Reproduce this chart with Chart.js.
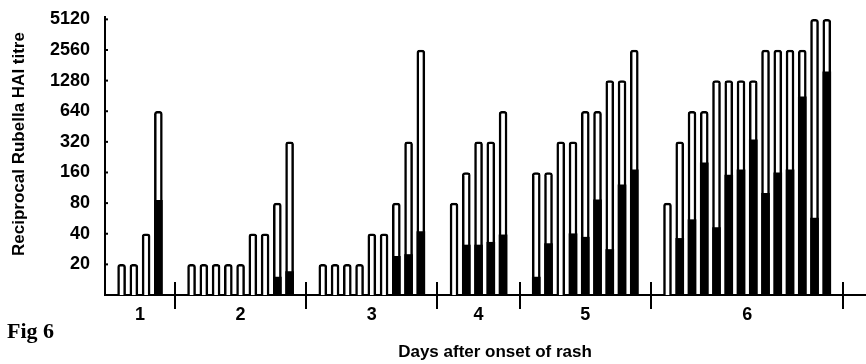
<!DOCTYPE html>
<html><head><meta charset="utf-8">
<script src="https://cdn.jsdelivr.net/npm/chart.js@4.4.0/dist/chart.umd.min.js"></script>
<style>html,body{margin:0;padding:0;background:#fff;} #wrap{width:866px;height:364px;}</style>
</head><body><div id="wrap"><canvas id="c" width="866" height="364"></canvas></div>
<script>
// ---- data ----
const dayLabels = ['1', '2', '3', '4', '5', '6'];
const yTickValues = [20, 40, 80, 160, 320, 640, 1280, 2560, 5120];

const day1Titres = [20, 20, 40, 640];
const day1Filled = [null, null, null, 85];
const day2Titres = [20, 20, 20, 20, 20, 40, 40, 80, 320];
const day2Filled = [null, null, null, null, null, null, null, 15, 17];
const day3Titres = [20, 20, 20, 20, 40, 40, 80, 320, 2560];
const day3Filled = [null, null, null, null, null, null, 24, 25, 42];
const day4Titres = [80, 160, 320, 320, 640];
const day4Filled = [null, 31, 31, 33, 39];
const day5Titres = [160, 160, 320, 320, 640, 640, 1280, 1280, 2560];
const day5Filled = [15, 32, null, 40, 37, 86, 28, 121, 170];
const day6Titres = [80, 320, 640, 640, 1280, 1280, 1280, 1280, 2560, 2560, 2560, 2560, 5120, 5120];
const day6Filled = [null, 36, 55, 199, 46, 151, 170, 335, 100, 159, 170, 887, 57, 1564];

const titreGroups = [day1Titres, day2Titres, day3Titres, day4Titres, day5Titres, day6Titres];
const filledGroups = [day1Filled, day2Filled, day3Filled, day4Filled, day5Filled, day6Filled];

// ---- layout of bar slots (in bar pitches) ----
const GAP = 2.71;
const TAIL = 3.2;

const totalPts = [], filledPts = [], centers = [], separators = [];
let pos = GAP / 2, lastEnd = 0;
titreGroups.forEach((g, gi) => {
  const start = pos;
  g.forEach((v, i) => {
    const x = start + i;
    totalPts.push({x: x, y: v});
    const f = filledGroups[gi][i];
    if (f != null) filledPts.push({x: x, y: f});
  });
  const end = start + g.length - 1;
  centers.push((start + end) / 2);
  separators.push(end + GAP / 2);
  lastEnd = end;
  pos = end + GAP;
});
const xMax = lastEnd + TAIL;

const FONT = "'Liberation Sans', Arial, Helvetica, sans-serif";

const decor = {
  id: 'decor',
  afterDraw(chart) {
    const ctx = chart.ctx, xs = chart.scales.x, ys = chart.scales.y;
    const ca = chart.chartArea;
    ctx.save();
    ctx.strokeStyle = '#000';
    ctx.lineWidth = 2;
    // group separators on the x axis
    separators.forEach(s => {
      const px = Math.round(xs.getPixelForValue(s));
      ctx.beginPath();
      ctx.moveTo(px, ca.bottom - 13);
      ctx.lineTo(px, ca.bottom + 14);
      ctx.stroke();
    });
    // small tick nubs on the y axis
    yTickValues.forEach(v => {
      const py = ys.getPixelForValue(v);
      ctx.beginPath();
      ctx.moveTo(ca.left, py);
      ctx.lineTo(ca.left + 3, py);
      ctx.stroke();
    });
    // y axis title
    ctx.fillStyle = '#000';
    ctx.font = 'bold 17px ' + FONT;
    ctx.textAlign = 'center';
    ctx.textBaseline = 'middle';
    ctx.translate(19, 144);
    ctx.rotate(-Math.PI / 2);
    ctx.fillText('Reciprocal Rubella HAI titre', 0, 0);
    ctx.restore();
    // x axis title
    ctx.save();
    ctx.fillStyle = '#000';
    ctx.font = 'bold 17px ' + FONT;
    ctx.textAlign = 'center';
    ctx.textBaseline = 'middle';
    ctx.fillText('Days after onset of rash', 495, 352);
    // figure label
    ctx.font = "bold 22px 'Liberation Serif', 'Times New Roman', serif";
    ctx.textAlign = 'left';
    ctx.textBaseline = 'alphabetic';
    ctx.fillText('Fig 6', 7, 338);
    ctx.restore();
  }
};

new Chart(document.getElementById('c'), {
  type: 'bar',
  data: {
    datasets: [
      {label: 'filled', data: filledPts, backgroundColor: '#000', borderWidth: 0,
       barThickness: 8, order: 0, grouped: false},
      {label: 'titre', data: totalPts, backgroundColor: '#fff', borderColor: '#000',
       borderWidth: 2.5, borderRadius: {topLeft: 3, topRight: 3, bottomLeft: 0, bottomRight: 0},
       barThickness: 8, order: 1, grouped: false}
    ]
  },
  options: {
    responsive: false, animation: false, devicePixelRatio: 1,
    layout: {padding: {top: 17, right: 0, bottom: 0, left: 0}},
    plugins: {legend: {display: false}, tooltip: {enabled: false}},
    scales: {
      x: {
        type: 'linear', min: 0, max: xMax, offset: false,
        grid: {display: false, drawTicks: false},
        border: {display: true, color: '#000', width: 2},
        afterBuildTicks: s => { s.ticks = centers.map(v => ({value: v})); },
        afterFit: s => { s.height = 69; s.paddingLeft = 0; s.paddingRight = 0; },
        ticks: {autoSkip: false, maxRotation: 0, padding: 9, color: '#000',
                font: {family: FONT, size: 18, weight: 'bold'}, callback: (v, i) => dayLabels[i]}
      },
      y: {
        type: 'logarithmic', min: 10, max: 5400,
        grid: {display: false, drawTicks: false},
        border: {display: true, color: '#000', width: 2},
        afterBuildTicks: s => { s.ticks = yTickValues.map(v => ({value: v})); },
        afterFit: s => { s.width = 105; s.paddingTop = 0; s.paddingBottom = 0; },
        ticks: {autoSkip: false, padding: 15, color: '#000',
                font: {family: FONT, size: 18, weight: 'bold'}, callback: v => String(v)}
      }
    }
  },
  plugins: [decor]
});
</script>
</body></html>
